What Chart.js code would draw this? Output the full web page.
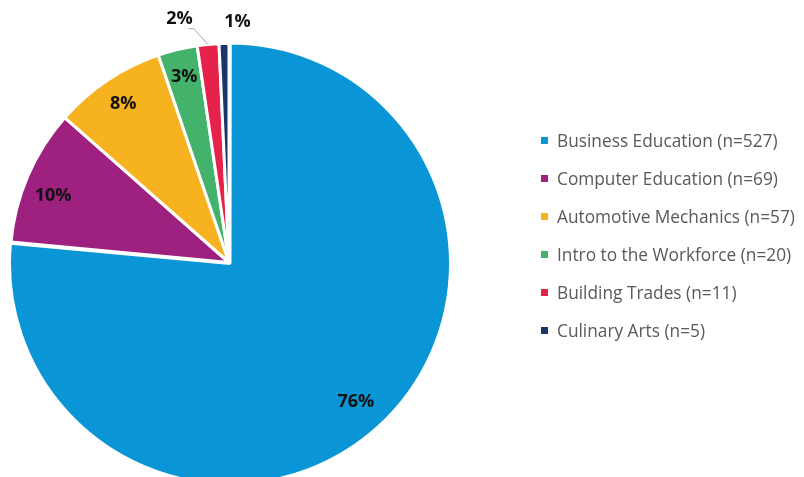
<!DOCTYPE html>
<html>
<head>
<meta charset="utf-8">
<script src="https://cdn.jsdelivr.net/npm/chart.js@4.4.1/dist/chart.umd.min.js"></script>
<style>
  html, body { margin: 0; padding: 0; background: #fff; }
  #wrap { position: relative; width: 804px; height: 477px; }
  #legend {
    position: absolute; left: 541px; top: 121px;
    font-family: 'Open Sans', sans-serif; font-size: 17.3px; color: #595959;
  }
  #legend .item { display: flex; align-items: center; height: 38px; white-space: nowrap; }
  #legend .box { width: 7px; height: 7px; margin-right: 9px; }
</style>
</head>
<body>
<div id="wrap">
  <canvas id="pie" width="804" height="477"></canvas>
  <div id="legend"></div>
</div>
<script>
const programs = ['Business Education', 'Computer Education', 'Automotive Mechanics', 'Intro to the Workforce', 'Building Trades', 'Culinary Arts'];
const counts = [527, 69, 57, 20, 11, 5];
const colors = ['#0A96D6', '#9E2180', '#F6B31F', '#43B26A', '#E6224A', '#1B3564'];

const total = counts.reduce((a, b) => a + b, 0);

// label placement: fraction of radius, or outside with a nudge for the thin slices
const labelStyle = [
  { r: 0.86 }, { r: 0.86, dx: -3, dy: 8 }, { r: 0.87 }, { r: 0.87 },
  { out: 26, dx: -26, leader: true }, { out: 22, dx: 14 }
];

const pctLabels = {
  id: 'pctLabels',
  afterDatasetsDraw(chart) {
    const { ctx } = chart;
    const meta = chart.getDatasetMeta(0);
    ctx.save();
    ctx.font = "bold 18px 'Open Sans', sans-serif";
    ctx.fillStyle = '#111';
    ctx.textAlign = 'center';
    ctx.textBaseline = 'middle';
    meta.data.forEach((arc, i) => {
      const mid = (arc.startAngle + arc.endAngle) / 2;
      const st = labelStyle[i];
      const txt = Math.round(counts[i] / total * 100) + '%';
      let x, y;
      if (st.out) {
        const rr = arc.outerRadius + st.out;
        x = arc.x + Math.cos(mid) * rr + st.dx;
        y = arc.y + Math.sin(mid) * rr;
        if (st.leader) {
          const ex = arc.x + Math.cos(mid) * arc.outerRadius;
          const ey = arc.y + Math.sin(mid) * arc.outerRadius;
          ctx.strokeStyle = '#a6a6a6';
          ctx.lineWidth = 1;
          ctx.beginPath();
          ctx.moveTo(x + 9, y + 10);
          ctx.lineTo(x + 14, y + 10);
          ctx.lineTo(ex, ey);
          ctx.stroke();
        }
      } else {
        const rr = arc.outerRadius * st.r;
        x = arc.x + Math.cos(mid) * rr + (st.dx || 0);
        y = arc.y + Math.sin(mid) * rr + (st.dy || 0);
      }
      ctx.fillText(txt, x, y);
    });
    ctx.restore();
  }
};

new Chart(document.getElementById('pie'), {
  type: 'pie',
  data: {
    labels: programs,
    datasets: [{
      data: counts,
      backgroundColor: colors,
      borderColor: '#fff',
      borderWidth: 3,
      offset: [6, 0, 0, 0, 0, 0]
    }]
  },
  options: {
    responsive: false,
    animation: false,
    radius: 219,
    layout: { padding: { left: 0, right: 346, top: 48, bottom: 0 } },
    plugins: {
      legend: { display: false },
      tooltip: { enabled: false }
    }
  },
  plugins: [pctLabels]
});

// legend built from the same arrays
const legendEl = document.getElementById('legend');
programs.forEach((name, i) => {
  const row = document.createElement('div');
  row.className = 'item';
  row.innerHTML = `<span class="box" style="background:${colors[i]}"></span><span>${name} (n=${counts[i]})</span>`;
  legendEl.appendChild(row);
});
</script>
</body>
</html>
